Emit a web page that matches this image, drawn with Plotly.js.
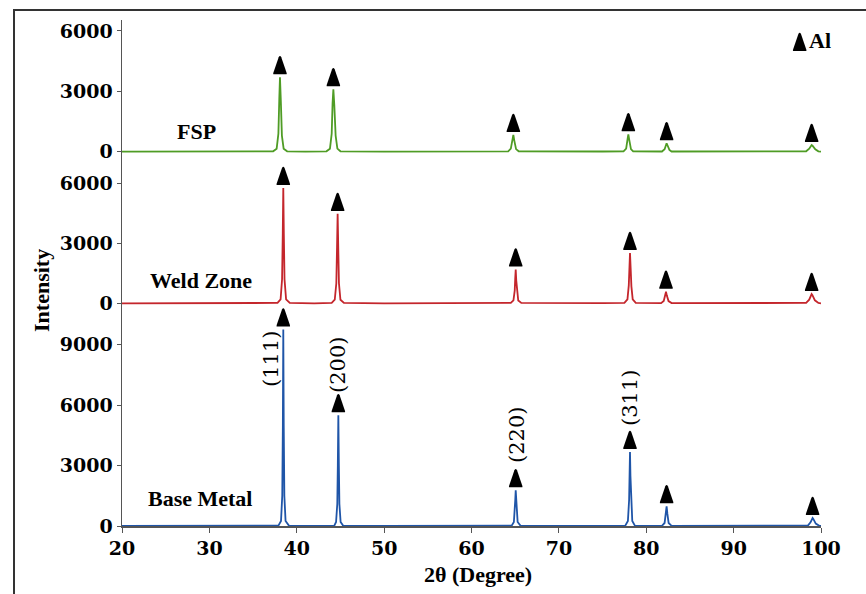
<!DOCTYPE html>
<html><head><meta charset="utf-8">
<script src="https://cdn.plot.ly/plotly-3.0.1.min.js"></script>
<style>html,body{margin:0;padding:0;background:#fff;} #chart{width:866px;height:594px;}</style>
</head><body><div id="chart"></div>
<script>
// ---- data ----
const xTicks = [20, 30, 40, 50, 60, 70, 80, 90, 100];
const fspTicks = [0, 3000, 6000];
const weldTicks = [0, 3000, 6000];
const baseTicks = [0, 3000, 6000, 9000];

const sampleNames = ['FSP', 'Weld Zone', 'Base Metal'];
const planeLabels = ['(111)', '(200)', '(220)', '(311)'];
const phaseLabel = 'Al';

const fspX = [20,25,30,35,37.3,37.7,37.9,38.0,38.08,38.18,38.3,38.5,38.9,41,43.4,43.8,44.0,44.1,44.19,44.3,44.45,44.65,45.0,50,55,60,64.2,64.5,64.7,64.79,64.9,65.1,65.4,70,75,77.4,77.7,77.87,77.95,78.05,78.25,78.5,81.8,82.1,82.25,82.33,82.43,82.65,82.9,90,95,98.3,98.65,98.85,98.93,99.05,99.35,99.7,100];
const fspY = [0,10,0,15,20,150,900,2600,3695,2500,800,150,20,0,20,150,900,2400,3100,2300,800,150,20,0,10,0,20,150,600,830,550,130,20,0,10,20,150,650,864,600,130,20,10,120,350,417,320,90,10,0,10,20,150,300,333,290,120,20,0];

const weldX = [20,25,30,35,37.8,38.15,38.32,38.4,38.46,38.52,38.6,38.78,39.2,42,44.0,44.35,44.53,44.61,44.68,44.75,44.83,45.0,45.4,50,55,60,64.5,64.8,64.95,65.0,65.06,65.12,65.2,65.35,65.7,70,75,77.5,77.85,78.0,78.07,78.14,78.21,78.3,78.45,78.8,81.7,82.0,82.17,82.26,82.35,82.55,82.9,90,95,98.3,98.65,98.85,98.93,99.02,99.3,99.7,100];
const weldY = [0,10,0,10,20,200,1200,3500,5762,3500,1200,200,20,0,20,180,1000,2800,4470,2800,1000,180,20,0,10,0,20,150,650,1200,1689,1150,600,140,20,0,10,20,200,900,1800,2513,1800,850,200,20,10,120,420,576,400,110,10,0,10,20,180,420,462,410,150,20,0];

const baseX = [20,25,30,35,37.9,38.2,38.34,38.41,38.46,38.51,38.58,38.72,39.1,42,44.3,44.5,44.64,44.7,44.76,44.82,44.88,45.02,45.3,50,55,60,64.6,64.85,64.97,65.01,65.06,65.11,65.16,65.28,65.6,70,75,77.6,77.9,78.04,78.09,78.14,78.19,78.26,78.4,78.7,81.8,82.1,82.24,82.33,82.42,82.56,82.9,90,95,98.5,98.8,98.98,99.04,99.12,99.4,99.8,100];
const baseY = [0,10,0,10,20,250,1500,5000,9755,5000,1500,250,20,0,20,200,1100,3000,5498,3000,1100,200,20,0,10,0,20,200,800,1300,1773,1300,800,200,20,0,10,20,250,1300,2500,3676,2500,1300,250,20,10,150,600,978,600,150,10,0,10,20,180,370,397,350,120,10,0];

const fspPeakX = [38.08, 44.19, 64.79, 77.95, 82.33, 98.93];
const fspPeakY = [3695, 3100, 830, 864, 417, 333];
const weldPeakX = [38.46, 44.68, 65.06, 78.14, 82.26, 98.93];
const weldPeakY = [5762, 4470, 1689, 2513, 576, 462];
const basePeakX = [38.46, 44.76, 65.06, 78.14, 82.33, 99.04];
const basePeakY = [9755, 5498, 1773, 3676, 978, 397];

// ---- drawing ----
const serif = 'Liberation Serif, Times New Roman, serif';
const tickFont = {family: 'DejaVu Serif, serif', size: 19, color: '#000', weight: 'bold'};
const colors = {fsp: '#4f9c25', weld: '#c4262c', base: '#1f55a8'};

const traces = [
  {x: fspX, y: fspY, xaxis: 'x', yaxis: 'y3', type: 'scatter', mode: 'lines', line: {color: colors.fsp, width: 1.8}},
  {x: weldX, y: weldY, xaxis: 'x', yaxis: 'y2', type: 'scatter', mode: 'lines', line: {color: colors.weld, width: 1.8}},
  {x: baseX, y: baseY, xaxis: 'x', yaxis: 'y', type: 'scatter', mode: 'lines', line: {color: colors.base, width: 1.8}}
];

const tri = 'M -6.5,3 L 6.5,3 Q 7,3 6.6,4.5 L 1.3,20 Q 0,22.5 -1.3,20 L -6.6,4.5 Q -7,3 -6.5,3 Z';
const shapes = [];
function addTris(px, py, yref) {
  px.forEach((xv, i) => shapes.push({type: 'path', xref: 'x', yref: yref, xsizemode: 'pixel', ysizemode: 'pixel',
    xanchor: xv, yanchor: py[i], path: tri, fillcolor: '#000', line: {width: 0}, layer: 'above'}));
}
addTris(fspPeakX, fspPeakY, 'y3');
addTris(weldPeakX, weldPeakY, 'y2');
addTris(basePeakX, basePeakY, 'y');
// legend triangle
shapes.push({type: 'path', xref: 'paper', yref: 'paper', xsizemode: 'pixel', ysizemode: 'pixel',
  xanchor: 0.9695, yanchor: 0.933, path: tri, fillcolor: '#000', line: {width: 0}});
// outer frame
shapes.push({type: 'rect', xref: 'paper', yref: 'paper', x0: -0.1545, x1: 1.066, y0: -0.2, y1: 1.0198,
  line: {color: '#333', width: 2}, fillcolor: 'rgba(0,0,0,0)'});

const annFont = {family: serif, size: 22, color: '#000', weight: 'bold'};
function paperText(text, x, y, extra) {
  return Object.assign({text: text, xref: 'paper', yref: 'paper', x: x, y: y, xanchor: 'center', yanchor: 'middle',
    showarrow: false, font: annFont}, extra || {});
}
const annotations = [
  paperText(sampleNames[0], 0.1059, 0.7806),
  paperText(sampleNames[1], 0.113, 0.486),
  paperText(sampleNames[2], 0.1116, 0.0553),
  paperText(phaseLabel, 0.9986, 0.9585),
  paperText('Intensity', -0.1159, 0.4664, {textangle: -90}),
  paperText('2θ (Degree)', 0.5093, -0.0949)
];
const planePos = [[37.05, 8295], [44.72, 7997], [65.2, 4520], [78.14, 6358]];
planeLabels.forEach((t, i) => annotations.push({text: t, xref: 'x', yref: 'y', x: planePos[i][0], y: planePos[i][1],
  xanchor: 'center', yanchor: 'middle', textangle: -90, showarrow: false,
  font: {family: 'DejaVu Serif, serif', size: 21, color: '#000'}}));

const yCommon = {showline: true, linecolor: '#555', linewidth: 1.5, ticks: 'outside', ticklen: 4, tickcolor: '#555',
  showgrid: false, zeroline: false, tickfont: tickFont, tickmode: 'array', fixedrange: true};

const layout = {
  width: 866, height: 594,
  margin: {l: 122, r: 45, t: 20, b: 68},
  paper_bgcolor: '#fff', plot_bgcolor: 'rgba(0,0,0,0)',
  showlegend: false,
  xaxis: {range: [20, 100], domain: [0, 1], anchor: 'y', showline: true, linecolor: '#555', linewidth: 1.5,
    ticks: 'outside', ticklen: 5, tickcolor: '#555', showgrid: false, zeroline: false, tickfont: tickFont,
    tickmode: 'array', tickvals: xTicks, ticktext: xTicks.map(String)},
  yaxis: Object.assign({}, yCommon, {domain: [0, 0.4466], range: [0, 11225], anchor: 'x',
    tickvals: baseTicks, ticktext: baseTicks.map(String)}),
  yaxis2: Object.assign({}, yCommon, {domain: [0.4269, 0.7431], range: [-333, 7664], anchor: 'x',
    tickvals: weldTicks, ticktext: weldTicks.map(String)}),
  yaxis3: Object.assign({}, yCommon, {domain: [0.7273, 1], range: [-313, 6541], anchor: 'x',
    tickvals: fspTicks, ticktext: fspTicks.map(String)}),
  shapes: shapes,
  annotations: annotations,
  hovermode: false
};

Plotly.newPlot('chart', traces, layout, {displayModeBar: false, staticPlot: true});
</script></body></html>
